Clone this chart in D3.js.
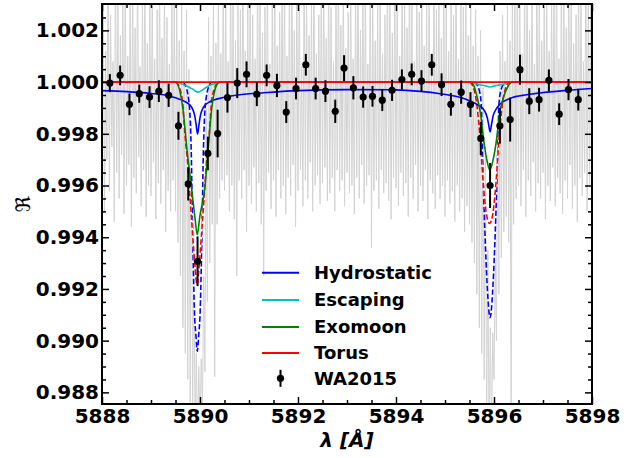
<!DOCTYPE html>
<html>
<head>
<meta charset="utf-8">
<script src="https://cdn.jsdelivr.net/npm/d3@7"></script>
<style>
  body { margin: 0; background: #fff; }
  svg { display: block; }
  text { font-family: "DejaVu Sans", sans-serif; }
</style>
</head>
<body>
<svg id="chart" width="635" height="458"></svg>
<script>
// ---- Axis ticks ----
const xMajorTicks = [5888, 5890, 5892, 5894, 5896, 5898];
const yMajorTicks = [0.988, 0.990, 0.992, 0.994, 0.996, 0.998, 1.000, 1.002];

// ---- High-resolution transmission spectrum (grey), binned: low / high excursion per bin ----
const specStart = 5888.0;
const specStep = 0.05;
const specLo = [
  0.9962, 0.9950, 0.9970, 0.9958, 0.9975, 0.9946, 0.9965, 0.9955, 0.9972, 0.9949,
  0.9960, 0.9968, 0.9944, 0.9963, 0.9957, 0.9971, 0.9952, 0.9966, 0.9948, 0.9960,
  0.9956, 0.9969, 0.9947, 0.9961, 0.9953, 0.9966, 0.9942, 0.9958, 0.9950, 0.9962,
  0.9950, 0.9938, 0.9925, 0.9905, 0.9895, 0.9885, 0.9876, 0.9870, 0.9865, 0.9860,
  0.9868, 0.9874, 0.9888, 0.9915, 0.9930, 0.9945, 0.9886, 0.9945, 0.9955, 0.9962,
  0.9958, 0.9964, 0.9950, 0.9960, 0.9947, 0.9925, 0.9962, 0.9955, 0.9966, 0.9942,
  0.9960, 0.9953, 0.9967, 0.9950, 0.9961, 0.9945, 0.9925, 0.9958, 0.9965, 0.9951,
  0.9962, 0.9948, 0.9966, 0.9955, 0.9960, 0.9949, 0.9963, 0.9956, 0.9968, 0.9944,
  0.9958, 0.9966, 0.9952, 0.9962, 0.9955, 0.9969, 0.9950, 0.9960, 0.9964, 0.9953,
  0.9961, 0.9967, 0.9954, 0.9957, 0.9963, 0.9950, 0.9966, 0.9958, 0.9962, 0.9952,
  0.9965, 0.9957, 0.9960, 0.9949, 0.9963, 0.9955, 0.9968, 0.9953, 0.9960, 0.9964,
  0.9936, 0.9958, 0.9962, 0.9951, 0.9966, 0.9957, 0.9961, 0.9954, 0.9947, 0.9963,
  0.9959, 0.9952, 0.9965, 0.9956, 0.9961, 0.9948, 0.9963, 0.9955, 0.9968, 0.9950,
  0.9960, 0.9954, 0.9966, 0.9947, 0.9962, 0.9957, 0.9951, 0.9964, 0.9955, 0.9960,
  0.9948, 0.9962, 0.9953, 0.9958, 0.9946, 0.9960, 0.9950, 0.9955, 0.9942, 0.9952,
  0.9945, 0.9938, 0.9930, 0.9918, 0.9905, 0.9895, 0.9885, 0.9868, 0.9860, 0.9866,
  0.9885, 0.9900, 0.9918, 0.9932, 0.9942, 0.9948, 0.9938, 0.9862, 0.9945, 0.9955,
  0.9960, 0.9952, 0.9966, 0.9948, 0.9962, 0.9956, 0.9969, 0.9950, 0.9961, 0.9955,
  0.9965, 0.9947, 0.9960, 0.9954, 0.9967, 0.9952, 0.9963, 0.9957, 0.9949, 0.9962,
  0.9955, 0.9968, 0.9951, 0.9960, 0.9946, 0.9963, 0.9956, 0.9965, 0.9950, 0.9960
];
const specHi = [
  1.0042, 1.0012, 1.0048, 1.0026, 1.0008, 1.0051, 1.0031, 1.0018, 1.0038, 1.0045,
  1.0010, 1.0036, 1.0043, 1.0021, 1.0050, 1.0006, 1.0033, 1.0046, 1.0015, 1.0041,
  1.0037, 1.0009, 1.0028, 1.0044, 1.0017, 1.0040, 1.0025, 1.0007, 1.0038, 1.0032,
  1.0035, 1.0016, 1.0030, 1.0012, 1.0028, 1.0005, 0.9985, 0.9935, 0.9895, 0.9890,
  0.9893, 0.9925, 0.9990, 1.0025, 1.0010, 1.0032, 1.0015, 1.0040, 1.0011, 1.0045,
  1.0038, 1.0008, 1.0049, 1.0033, 1.0016, 1.0036, 1.0028, 1.0047, 1.0012, 1.0031,
  1.0044, 1.0026, 1.0009, 1.0050, 1.0034, 1.0019, 1.0029, 1.0046, 1.0007, 1.0032,
  1.0048, 1.0014, 1.0027, 1.0041, 1.0045, 1.0010, 1.0039, 1.0049, 1.0020, 1.0038,
  1.0042, 1.0006, 1.0046, 1.0035, 1.0018, 1.0031, 1.0050, 1.0011, 1.0026, 1.0044,
  1.0039, 1.0017, 1.0047, 1.0029, 1.0008, 1.0036, 1.0048, 1.0022, 1.0043, 1.0013,
  1.0027, 1.0045, 1.0009, 1.0040, 1.0049, 1.0020, 1.0037, 1.0044, 1.0007, 1.0041,
  1.0035, 1.0016, 1.0030, 1.0039, 1.0011, 1.0026, 1.0048, 1.0036, 1.0019, 1.0042,
  1.0038, 1.0010, 1.0045, 1.0034, 1.0021, 1.0050, 1.0031, 1.0008, 1.0037, 1.0027,
  1.0046, 1.0014, 1.0032, 1.0043, 1.0006, 1.0048, 1.0028, 1.0041, 1.0017, 1.0045,
  1.0030, 1.0012, 1.0038, 1.0026, 1.0047, 1.0009, 1.0040, 1.0029, 1.0044, 1.0018,
  1.0035, 1.0014, 1.0028, 1.0010, 1.0020, 0.9998, 0.9975, 0.9935, 0.9905, 0.9903,
  0.9930, 0.9985, 1.0012, 1.0026, 1.0008, 1.0030, 1.0016, 1.0038, 1.0040, 1.0034,
  1.0045, 1.0011, 1.0039, 1.0048, 1.0020, 1.0042, 1.0007, 1.0050, 1.0033, 1.0016,
  1.0029, 1.0040, 1.0012, 1.0035, 1.0038, 1.0049, 1.0009, 1.0043, 1.0037, 1.0021,
  1.0047, 1.0034, 1.0015, 1.0026, 1.0045, 1.0039, 1.0008, 1.0048, 1.0036, 1.0042
];

// ---- Model curves: [wavelength (Å), ratio] ----
const hydrostatic = [
  [5888.0, 0.99967], [5888.5, 0.99963], [5889.0, 0.99956], [5889.3, 0.99949],
  [5889.5, 0.99939], [5889.7, 0.99924], [5889.8, 0.99910], [5889.85, 0.99895],
  [5889.89, 0.99872], [5889.92, 0.99837], [5889.95, 0.99799], [5889.98, 0.99837],
  [5890.01, 0.99872], [5890.05, 0.99895], [5890.1, 0.99910], [5890.2, 0.99924],
  [5890.5, 0.99941], [5890.9, 0.99953], [5891.3, 0.99959], [5892.0, 0.99967],
  [5893.0, 0.99971], [5894.0, 0.99970], [5894.5, 0.99964], [5894.9, 0.99955],
  [5895.3, 0.99941], [5895.5, 0.99928], [5895.7, 0.99908], [5895.8, 0.99891],
  [5895.86, 0.99864], [5895.89, 0.99837], [5895.92, 0.99807], [5895.95, 0.99837],
  [5895.98, 0.99868], [5896.03, 0.99891], [5896.12, 0.99914], [5896.33, 0.99937],
  [5896.67, 0.99951], [5896.94, 0.99958], [5897.5, 0.99968], [5898.0, 0.99975]
];
const escaping = [
  [5888.0, 1.0], [5889.55, 1.0], [5889.6, 0.99995], [5889.76, 0.99982],
  [5889.86, 0.99972], [5889.95, 0.99961], [5890.07, 0.99972], [5890.2, 0.99988],
  [5890.33, 0.99995], [5890.4, 1.0], [5895.55, 1.0], [5895.63, 0.99994],
  [5895.82, 0.99986], [5895.92, 0.99981], [5896.02, 0.99986], [5896.22, 0.99994],
  [5896.3, 1.0], [5898.0, 1.0]
];
const exomoon = [
  [5888.0, 1.0], [5889.50, 1.0], [5889.555, 0.99987], [5889.655, 0.99891],
  [5889.735, 0.99737], [5889.825, 0.99594], [5889.895, 0.99479], [5889.945, 0.99410],
  [5889.995, 0.99479], [5890.10, 0.99594], [5890.165, 0.99737], [5890.235, 0.99891],
  [5890.335, 0.99987], [5890.40, 1.0], [5895.52, 1.0], [5895.585, 0.99987],
  [5895.655, 0.99942], [5895.725, 0.99878], [5895.79, 0.99775], [5895.855, 0.99698],
  [5895.915, 0.99660], [5895.98, 0.99698], [5896.05, 0.99775], [5896.115, 0.99878],
  [5896.195, 0.99942], [5896.295, 0.99987], [5896.36, 1.0], [5898.0, 1.0]
];
const torus = [[5888.0, 1.0], [5898.0, 1.0]];

// Line-core profiles (dashed), one segment per sodium line
const torusCores = [
  [[5889.50, 1.0], [5889.54, 0.99994], [5889.64, 0.99930], [5889.69, 0.99802],
   [5889.755, 0.99672], [5889.80, 0.99544], [5889.847, 0.99417], [5889.895, 0.99294],
   [5889.94, 0.99217], [5889.985, 0.99294], [5890.033, 0.99417], [5890.08, 0.99544],
   [5890.125, 0.99672], [5890.19, 0.99802], [5890.24, 0.99930], [5890.34, 0.99994],
   [5890.38, 1.0]],
  [[5895.50, 1.0], [5895.54, 0.99994], [5895.655, 0.99904], [5895.72, 0.99775],
   [5895.78, 0.99609], [5895.842, 0.99493], [5895.91, 0.99453], [5895.978, 0.99493],
   [5896.04, 0.99609], [5896.10, 0.99775], [5896.165, 0.99904], [5896.28, 0.99994],
   [5896.32, 1.0]]
];
const hydrostaticCores = [
  [[5889.66, 1.0], [5889.69, 0.99991], [5889.77, 0.99930], [5889.80, 0.99853],
   [5889.825, 0.99698], [5889.845, 0.99467], [5889.865, 0.99275], [5889.885, 0.99121],
   [5889.915, 0.99025], [5889.945, 0.98959], [5889.975, 0.99025], [5890.005, 0.99121],
   [5890.025, 0.99275], [5890.045, 0.99467], [5890.065, 0.99698], [5890.09, 0.99853],
   [5890.12, 0.99930], [5890.20, 0.99991], [5890.23, 1.0]],
  [[5895.60, 1.0], [5895.63, 0.99996], [5895.715, 0.99955], [5895.745, 0.99891],
   [5895.76, 0.99764], [5895.815, 0.99417], [5895.858, 0.99225], [5895.92, 0.99089],
   [5895.982, 0.99225], [5896.025, 0.99417], [5896.08, 0.99764], [5896.095, 0.99891],
   [5896.125, 0.99955], [5896.21, 0.99996], [5896.24, 1.0]]
];

// ---- WA2015 binned measurements ----
const waWave = [
  5888.16, 5888.37, 5888.56, 5888.76, 5888.97, 5889.16, 5889.36, 5889.56, 5889.76, 5889.95,
  5890.16, 5890.36, 5890.56, 5890.76, 5890.95, 5891.16, 5891.36, 5891.57, 5891.76, 5891.96,
  5892.16, 5892.36, 5892.56, 5892.76, 5892.94, 5893.13, 5893.33, 5893.52, 5893.72, 5893.92,
  5894.12, 5894.32, 5894.52, 5894.73, 5894.93, 5895.12, 5895.33, 5895.52, 5895.73, 5895.92,
  5896.12, 5896.33, 5896.53, 5896.72, 5896.92, 5897.12, 5897.33, 5897.52, 5897.72
];
const waFlux = [
  0.99996, 1.00026, 0.99914, 0.99955, 0.99942, 0.99965, 0.99949, 0.99831, 0.99606, 0.99307,
  0.99724, 0.99801, 0.99940, 0.99996, 1.00030, 0.99953, 1.00026, 0.99987, 0.99884, 0.99975,
  1.00067, 0.99975, 0.99965, 0.99887, 1.00054, 0.99978, 0.99942, 0.99945, 0.99930, 0.99968,
  1.00010, 1.00030, 1.00004, 1.00067, 0.99990, 0.99914, 0.99961, 0.99913, 0.99782, 0.99600,
  0.99831, 0.99855, 1.00048, 0.99926, 0.99932, 1.00007, 0.99876, 0.99971, 0.99932
];
const waErr = [
  0.00035, 0.00038, 0.00042, 0.00035, 0.00042, 0.00042, 0.00045, 0.00054, 0.00064, 0.00096,
  0.00065, 0.00092, 0.00058, 0.00058, 0.00050, 0.00046, 0.00042, 0.00045, 0.00042, 0.00042,
  0.00042, 0.00042, 0.00042, 0.00045, 0.00050, 0.00045, 0.00041, 0.00040, 0.00042, 0.00041,
  0.00039, 0.00042, 0.00042, 0.00042, 0.00044, 0.00044, 0.00045, 0.00048, 0.00064, 0.00087,
  0.00069, 0.00085, 0.00058, 0.00050, 0.00046, 0.00042, 0.00042, 0.00041, 0.00042
];

const legendItems = [
  { label: "Hydrostatic", color: "#0000ff", type: "line" },
  { label: "Escaping",    color: "#00bfbf", type: "line" },
  { label: "Exomoon",     color: "#008000", type: "line" },
  { label: "Torus",       color: "#ff0000", type: "line" },
  { label: "WA2015",      color: "#000000", type: "errorbar" }
];

// ---- Layout ----
const plot = { left: 102, right: 592, top: 4, bottom: 404 };
const svg = d3.select("#chart");

const x = d3.scaleLinear().domain([5888, 5898]).range([plot.left, plot.right]);
const y = d3.scaleLinear().domain([0.98755, 1.00302]).range([plot.bottom, plot.top]);

svg.append("defs").append("clipPath").attr("id", "plotClip")
  .append("rect")
  .attr("x", plot.left).attr("y", plot.top)
  .attr("width", plot.right - plot.left).attr("height", plot.bottom - plot.top);

const layer = svg.append("g").attr("clip-path", "url(#plotClip)");

// Grey spectrum: zig-zag between each bin's low and high excursion
const specPts = [];
specLo.forEach((lo, i) => {
  const w = specStart + i * specStep;
  specPts.push([w, lo]);
  specPts.push([w + specStep / 2, specHi[i]]);
});
layer.append("path")
  .datum(specPts)
  .attr("fill", "none")
  .attr("stroke", "#d3d3d3")
  .attr("stroke-width", 1)
  .attr("d", d3.line().x(d => x(d[0])).y(d => y(d[1])));

const curve = d3.line().x(d => x(d[0])).y(d => y(d[1])).curve(d3.curveMonotoneX);

// Dashed core profiles with white gaps
function dashedProfile(segments, color) {
  segments.forEach(seg => {
    layer.append("path").datum(seg)
      .attr("fill", "none").attr("stroke", "#ffffff").attr("stroke-width", 1.6)
      .attr("d", curve);
    layer.append("path").datum(seg)
      .attr("fill", "none").attr("stroke", color).attr("stroke-width", 1.6)
      .attr("stroke-dasharray", "5.5,2.4")
      .attr("d", curve);
  });
}
dashedProfile(hydrostaticCores, "#0000ff");
dashedProfile(torusCores, "#ff0000");

// Solid model curves
[[hydrostatic, "#0000ff"], [escaping, "#00bfbf"], [exomoon, "#008000"], [torus, "#ff0000"]]
  .forEach(([data, color]) => {
    layer.append("path").datum(data)
      .attr("fill", "none").attr("stroke", color).attr("stroke-width", 1.6)
      .attr("d", curve);
  });

// WA2015 points with error bars
const pts = waWave.map((w, i) => ({ w, f: waFlux[i], e: waErr[i] }));
const ptG = layer.append("g");
ptG.selectAll("line").data(pts).join("line")
  .attr("x1", d => x(d.w)).attr("x2", d => x(d.w))
  .attr("y1", d => y(d.f - d.e)).attr("y2", d => y(d.f + d.e))
  .attr("stroke", "#000").attr("stroke-width", 2);
ptG.selectAll("circle").data(pts).join("circle")
  .attr("cx", d => x(d.w)).attr("cy", d => y(d.f)).attr("r", 3.6)
  .attr("fill", "#000");

// ---- Axes (ticks pointing inward on all four sides) ----
const xMinor = d3.range(5888, 5898.01, 0.5).filter(v => Math.abs(v % 2) > 1e-6);
const yMinor = d3.range(0.9880, 1.0030, 0.0005).filter(v => Math.abs(Math.round(v * 1e4) % 20) !== 0);

function styleAxis(g) {
  g.select(".domain").remove();
  g.selectAll(".tick line").attr("stroke", "#000").attr("stroke-width", 1.5);
  g.selectAll(".tick text")
    .attr("fill", "#000")
    .style("font-family", "'DejaVu Sans', sans-serif")
    .style("font-size", "20px")
    .style("font-weight", "bold");
}

svg.append("g").attr("transform", `translate(0,${plot.bottom})`)
  .call(d3.axisBottom(x).tickValues(xMajorTicks).tickFormat(d3.format("d")).tickSize(-7).tickPadding(5))
  .call(styleAxis);
svg.append("g").attr("transform", `translate(0,${plot.bottom})`)
  .call(d3.axisBottom(x).tickValues(xMinor).tickFormat("").tickSize(-4))
  .call(styleAxis);
svg.append("g").attr("transform", `translate(0,${plot.top})`)
  .call(d3.axisTop(x).tickValues(xMajorTicks).tickFormat("").tickSize(-7))
  .call(styleAxis);
svg.append("g").attr("transform", `translate(0,${plot.top})`)
  .call(d3.axisTop(x).tickValues(xMinor).tickFormat("").tickSize(-4))
  .call(styleAxis);

svg.append("g").attr("transform", `translate(${plot.left},0)`)
  .call(d3.axisLeft(y).tickValues(yMajorTicks).tickFormat(d3.format(".3f")).tickSize(-7).tickPadding(3))
  .call(styleAxis);
svg.append("g").attr("transform", `translate(${plot.left},0)`)
  .call(d3.axisLeft(y).tickValues(yMinor).tickFormat("").tickSize(-4))
  .call(styleAxis);
svg.append("g").attr("transform", `translate(${plot.right},0)`)
  .call(d3.axisRight(y).tickValues(yMajorTicks).tickFormat("").tickSize(-7))
  .call(styleAxis);
svg.append("g").attr("transform", `translate(${plot.right},0)`)
  .call(d3.axisRight(y).tickValues(yMinor).tickFormat("").tickSize(-4))
  .call(styleAxis);

// Frame
svg.append("rect")
  .attr("x", plot.left).attr("y", plot.top)
  .attr("width", plot.right - plot.left).attr("height", plot.bottom - plot.top)
  .attr("fill", "none").attr("stroke", "#000").attr("stroke-width", 2);

// Axis labels
svg.append("text")
  .attr("x", (plot.left + plot.right) / 2).attr("y", 447)
  .attr("text-anchor", "middle")
  .style("font-size", "20px").style("font-weight", "bold").style("font-style", "italic")
  .text("λ [Å]");
svg.append("text")
  .attr("transform", `translate(30,${(plot.top + plot.bottom) / 2}) rotate(-90)`)
  .attr("text-anchor", "middle")
  .style("font-size", "20px")
  .text("ℜ");

// ---- Legend ----
const legend = svg.append("g");
const legendRowY = [272.7, 300, 327, 353, 378.3];
legendItems.forEach((item, i) => {
  const ly = legendRowY[i];
  if (item.type === "line") {
    legend.append("line")
      .attr("x1", 262).attr("x2", 299).attr("y1", ly).attr("y2", ly)
      .attr("stroke", item.color).attr("stroke-width", 2);
  } else {
    legend.append("line")
      .attr("x1", 280.5).attr("x2", 280.5).attr("y1", ly - 8.5).attr("y2", ly + 8.5)
      .attr("stroke", item.color).attr("stroke-width", 2);
    legend.append("circle").attr("cx", 280.5).attr("cy", ly).attr("r", 3.6).attr("fill", item.color);
  }
  legend.append("text")
    .attr("x", 314).attr("y", ly).attr("dy", "0.36em")
    .style("font-size", "18px").style("font-weight", "bold")
    .text(item.label);
});
</script>
</body>
</html>
